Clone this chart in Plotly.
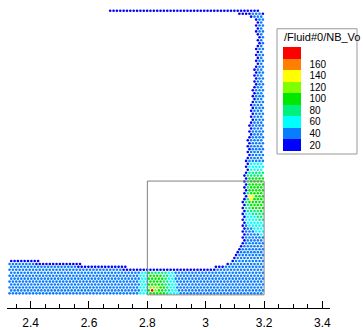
import numpy as np
import plotly.graph_objects as go

# ---------------- data ----------------
# fluid outline polygons (x, y) in data units
left_pool = [(2.322, 0.003), (2.8, 0.003), (2.8, 0.093), (2.65, 0.104), (2.5, 0.114), (2.322, 0.127)]
wall_flow = [(2.8, 0.0), (3.2, 0.0), (3.2, 0.975), (3.196, 0.992), (3.186, 1.003), (3.165, 1.008),
             (3.10, 1.006), (2.90, 1.005), (2.668, 1.007), (2.668, 0.994), (2.90, 0.993),
             (3.10, 0.990), (3.150, 0.982), (3.168, 0.965), (3.175, 0.900), (3.161, 0.728),
             (3.145, 0.557), (3.128, 0.386), (3.124, 0.190), (3.108, 0.146), (3.084, 0.118),
             (3.049, 0.101), (2.981, 0.091), (2.8, 0.091)]
fluid_polys = [left_pool, wall_flow]

# value zones (later zones override earlier ones)
zone_polys = [
    [(2.775, 0.0), (2.905, 0.0), (2.888, 0.095), (2.775, 0.095)],
    [(2.80, 0.0), (2.880, 0.0), (2.868, 0.080), (2.80, 0.090)],
    [(2.80, 0.0), (2.862, 0.0), (2.852, 0.070), (2.80, 0.080)],
    [(2.808, 0.006), (2.835, 0.006), (2.835, 0.028), (2.808, 0.028)],
    [(2.815, 0.010), (2.826, 0.010), (2.826, 0.020), (2.815, 0.020)],
    [(3.124, 0.27), (3.16, 0.23), (3.2, 0.20), (3.2, 0.47), (3.13, 0.47)],
    [(3.135, 0.30), (3.2, 0.25), (3.2, 0.43), (3.135, 0.43)],
    [(3.145, 0.31), (3.2, 0.29), (3.2, 0.41), (3.145, 0.41)],
    [(3.145, 0.330), (3.165, 0.330), (3.165, 0.355), (3.145, 0.355)],
]
zone_values = [60, 70, 90, 120, 170, 60, 70, 90, 130]
bulk_value = 40
surface_value = 20

box_x = [2.8, 3.2]
box_y = [0.0, 0.4]

band_colors = ['#0000ff', '#0a7cff', '#00ffff', '#00f080', '#00e800',
               '#80ff00', '#ffff00', '#ff8000', '#ff0000']
bar_ticks = [20, 40, 60, 80, 100, 120, 140, 160]
x_ticks = [2.4, 2.6, 2.8, 3.0, 3.2, 3.4]
legend_title = '/Fluid#0/NB_Vo'

# ---------------- helpers ----------------
spacing = 0.0115
row_step = spacing * 0.9
x_lo, x_hi = 2.322, 3.2


def inside(px, py, poly):
    xs = np.array([p[0] for p in poly])
    ys = np.array([p[1] for p in poly])
    res = np.zeros(px.shape, bool)
    j = len(poly) - 1
    for i in range(len(poly)):
        dy = ys[j] - ys[i]
        dy = np.where(dy == 0, 1e-12, dy)
        cond = ((ys[i] > py) != (ys[j] > py)) & (px < (xs[j] - xs[i]) * (py - ys[i]) / dy + xs[i])
        res ^= cond
        j = i
    return res


def in_fluid(px, py):
    r = np.zeros(px.shape, bool)
    for p in fluid_polys:
        r |= inside(px, py, p)
    return r


pts_x, pts_y = [], []
rows = np.arange(row_step / 2, 1.02, row_step)
for k, yy in enumerate(rows):
    off = (k % 2) * spacing / 2
    xx = np.arange(x_lo + spacing / 2 + off, x_hi, spacing)
    pts_x.append(xx)
    pts_y.append(np.full(xx.shape, yy))
px = np.concatenate(pts_x)
py = np.concatenate(pts_y)
keep = in_fluid(px, py)
px, py = px[keep], py[keep]

surface = np.zeros(px.shape, bool)
for dx, dy in [(0, spacing), (-spacing, 0), (0, -spacing)]:
    nx, ny = px + dx, py + dy
    in_dom = (nx > x_lo) & (nx < x_hi) & (ny > 0)
    surface |= in_dom & ~in_fluid(nx, ny)

vals = np.full(px.shape, float(bulk_value))
for poly, v in zip(zone_polys, zone_values):
    m = inside(px, py, poly) & ~surface
    vals[m] = v
vals[surface] = surface_value

# discrete colour scale 10..190, 9 bands
n = len(band_colors)
cscale = []
for i, c in enumerate(band_colors):
    cscale.append([i / n, c])
    cscale.append([(i + 1) / n, c])

# pixel helpers for the legend (plot area: left 7, width 323, top 0, height 316)
L, W, T, H = 7, 323, 0, 316


def pxx(p):
    return (p - L) / W


def pxy(p):
    return 1 - (p - T) / H


fig = go.Figure()
fig.add_trace(go.Scatter(
    x=px, y=py, mode='markers',
    marker=dict(size=2.6, color=vals, colorscale=cscale, cmin=10, cmax=190,
                line=dict(width=0),
                colorbar=dict(
                    x=pxx(283), xanchor='left', xpad=0, ypad=0,
                    y=pxy(48), yanchor='top',
                    thickness=18, thicknessmode='pixels',
                    len=104, lenmode='pixels',
                    tickvals=bar_ticks, ticktext=[str(t) for t in bar_ticks],
                    ticks='outside', ticklen=7, tickcolor='rgba(0,0,0,0)',
                    tickfont=dict(family='Liberation Sans, Arial', size=10, color='black'),
                    outlinewidth=0,
                )),
    hoverinfo='skip', showlegend=False,
))

fig.add_shape(type='rect', xref='x', yref='y', x0=box_x[0], x1=box_x[1], y0=box_y[0], y1=box_y[1],
              line=dict(color='#808080', width=1), layer='above')
fig.add_shape(type='rect', xref='paper', yref='paper', x0=pxx(277), x1=pxx(357), y0=pxy(158), y1=pxy(29.5),
              line=dict(color='#999999', width=1), layer='above')
fig.add_annotation(text=legend_title, xref='paper', yref='paper', x=pxx(281.5), y=pxy(38),
                   xanchor='left', yanchor='middle', showarrow=False,
                   font=dict(family='Liberation Sans, Arial', size=11, color='black'))

fig.update_layout(
    width=363, height=330,
    margin=dict(l=L, r=363 - L - W, t=T, b=330 - T - H, pad=0),
    paper_bgcolor='white', plot_bgcolor='white',
    xaxis=dict(range=[2.319, 3.426], tickvals=x_ticks, ticktext=['2.4', '2.6', '2.8', '3', '3.2', '3.4'],
               ticks='inside', ticklen=7, tickcolor='black', showline=True, linecolor='black', linewidth=1,
               showgrid=False, zeroline=False, ticklabelstandoff=4,
               minor=dict(dtick=0.05, tick0=2.4, ticks='inside', ticklen=4, tickcolor='black', showgrid=False),
               tickfont=dict(family='Liberation Sans, Arial', size=12, color='black')),
    yaxis=dict(range=[-0.0463, 1.0367], visible=False, showgrid=False, zeroline=False),
)

fig.write_html('out.html')
